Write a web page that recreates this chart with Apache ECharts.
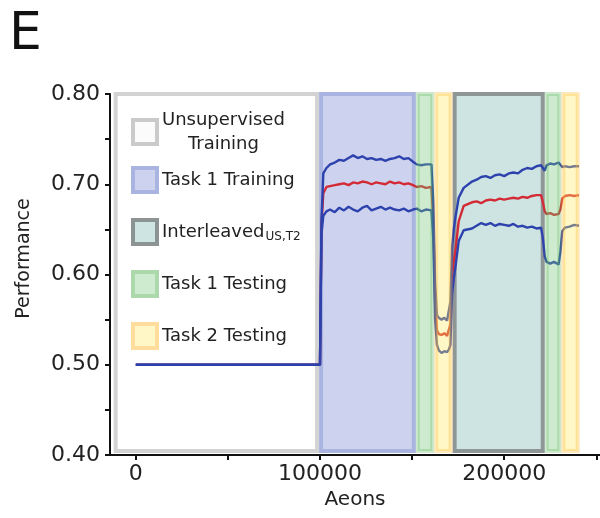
<!DOCTYPE html>
<html>
<head>
<meta charset="utf-8">
<script src="https://cdn.jsdelivr.net/npm/echarts@6/dist/echarts.min.js"></script>
<style>html,body{margin:0;padding:0;background:#fff}#c{width:600px;height:518px}</style>
</head>
<body>
<div id="c"></div>
<script>
// ---- data ----
const aeons = [0,100000,100800,101800,103500,105500,108000,110500,113000,115500,118000,120500,123000,125500,128000,130500,133000,135500,138000,140500,143000,145500,148000,150500,152500,155000,157500,160500,161500,162500,163500,164500,166000,167500,169000,170000,170800,171700,172600,173500,175300,178000,182500,185000,187500,190000,192500,195000,197500,200000,202500,205000,207500,210000,212500,215000,217500,220000,221000,222000,223000,225000,227000,229500,230500,231500,233000,235500,238000,240500];
const upperVals = [0.5,0.5,0.660,0.712,0.718,0.722,0.724,0.727,0.726,0.729,0.732,0.729,0.731,0.728,0.729,0.727,0.728,0.726,0.728,0.729,0.731,0.728,0.729,0.725,0.722,0.721,0.722,0.722,0.680,0.590,0.555,0.552,0.550,0.552,0.549,0.551,0.570,0.630,0.650,0.663,0.685,0.696,0.703,0.705,0.708,0.709,0.707,0.710,0.711,0.709,0.712,0.713,0.712,0.716,0.718,0.717,0.720,0.721,0.718,0.715,0.721,0.723,0.722,0.724,0.722,0.719,0.720,0.719,0.720,0.720];
const meanVals = [0.5,0.5,0.655,0.690,0.697,0.698,0.699,0.700,0.701,0.699,0.702,0.701,0.703,0.702,0.700,0.702,0.701,0.700,0.703,0.701,0.702,0.700,0.701,0.699,0.697,0.698,0.696,0.697,0.660,0.570,0.538,0.534,0.533,0.535,0.532,0.534,0.545,0.600,0.615,0.626,0.659,0.676,0.680,0.681,0.679,0.682,0.683,0.682,0.684,0.683,0.684,0.685,0.684,0.686,0.685,0.687,0.688,0.688,0.680,0.670,0.667,0.668,0.666,0.667,0.672,0.684,0.687,0.688,0.687,0.688];
const lowerVals = [0.5,0.5,0.645,0.665,0.670,0.672,0.669,0.674,0.671,0.675,0.672,0.670,0.674,0.676,0.671,0.673,0.675,0.672,0.674,0.672,0.671,0.673,0.670,0.672,0.673,0.670,0.672,0.671,0.640,0.550,0.522,0.516,0.513,0.515,0.514,0.517,0.522,0.578,0.595,0.608,0.637,0.649,0.651,0.654,0.657,0.655,0.657,0.654,0.656,0.655,0.654,0.656,0.653,0.654,0.652,0.653,0.651,0.652,0.640,0.620,0.614,0.612,0.614,0.611,0.625,0.648,0.652,0.653,0.655,0.654];

const unsupervisedSpans = [[-12000, 99500]];
const task1TrainingSpans = [[99500, 152000]];
const interleavedSpans = [[172000, 222000]];
const task1TestingSpans = [[152000, 162000], [222000, 231000]];
const task2TestingSpans = [[162000, 172000], [231000, 241000]];

const regionNames = ['Unsupervised Training', 'Task 1 Training', 'Interleaved', 'Task 1 Testing', 'Task 2 Testing'];
const xTickValues = [0, 50000, 100000, 150000, 200000, 250000];
const xLabelValues = [0, 100000, 200000];
const yTickValues = [0.40, 0.45, 0.50, 0.55, 0.60, 0.65, 0.70, 0.75, 0.80];
const yLabelValues = [0.40, 0.50, 0.60, 0.70, 0.80];

// ---- styles ----
const FONT = 'DejaVu Sans';
const regionStyles = {
  'Unsupervised Training': {z: 1, fill: 'rgba(255,255,255,0)', stroke: 'rgba(175,175,175,0.55)', lfill: '#fbfbfb', lborder: '#cacaca'},
  'Task 1 Training': {z: 1, fill: '#cdd3ee', stroke: '#aab4e0', lfill: '#cdd3ee', lborder: '#a9b4e0'},
  'Interleaved': {z: 1, fill: '#cde4e3', stroke: '#8e9696', lfill: '#cde4e3', lborder: '#8c9393'},
  'Task 1 Testing': {z: 5, fill: 'rgba(118,198,118,0.35)', stroke: 'rgba(90,180,90,0.30)', lfill: '#cfebcf', lborder: '#acd9ac'},
  'Task 2 Testing': {z: 5, fill: 'rgba(255,232,89,0.35)', stroke: 'rgba(255,190,60,0.35)', lfill: '#fff7c5', lborder: '#ffde9d'}
};
const spansByName = {
  'Unsupervised Training': unsupervisedSpans,
  'Task 1 Training': task1TrainingSpans,
  'Interleaved': interleavedSpans,
  'Task 1 Testing': task1TestingSpans,
  'Task 2 Testing': task2TestingSpans
};

function regionSeries(name) {
  const st = regionStyles[name];
  return {
    name: name,
    type: 'custom',
    z: st.z,
    silent: true,
    encode: {x: [0, 1], y: [2, 3]},
    data: spansByName[name].map(s => [s[0], s[1], 0.8, 0.4]),
    renderItem: function (params, api) {
      const p0 = api.coord([api.value(0), api.value(2)]);
      const p1 = api.coord([api.value(1), api.value(3)]);
      return {
        type: 'rect',
        shape: {x: p0[0] + 2, y: p0[1], width: p1[0] - p0[0] - 4, height: p1[1] - p0[1] - 4},
        style: {fill: st.fill, stroke: st.stroke, lineWidth: 4}
      };
    }
  };
}

function toPts(vals) { return aeons.map((x, i) => [x, vals[i]]); }

const legendText = {fontFamily: FONT, fontSize: 18, color: '#222', lineHeight: 22,
  rich: {
    c: {fontFamily: FONT, fontSize: 18, color: '#222', align: 'center', lineHeight: 24},
    a: {fontFamily: FONT, fontSize: 18, color: '#222', lineHeight: 22},
    s: {fontFamily: FONT, fontSize: 12, color: '#222', lineHeight: 12, verticalAlign: 'bottom', padding: [6, 0, 0, 1]}
  }
};
function legendItem(name) {
  const st = regionStyles[name];
  return {name: name, icon: 'rect', itemStyle: {color: st.lfill, borderColor: st.lborder, borderWidth: 4}};
}

const chart = echarts.init(document.getElementById('c'), null, {renderer: 'canvas'});
chart.setOption({
  animation: false,
  backgroundColor: '#fff',
  graphic: [{type: 'text', left: 9, top: 9, style: {text: 'E', font: '52px "DejaVu Sans"', fill: '#111'}}],
  legend: [
    {data: [legendItem(regionNames[0])], orient: 'vertical', left: 126, top: 103, itemWidth: 24, itemHeight: 24,
     selectedMode: false, textStyle: legendText,
     formatter: () => '{c|Unsupervised}\n{c|Training}'},
    {data: regionNames.slice(1).map(legendItem), orient: 'vertical', left: 126, top: 161, itemWidth: 24, itemHeight: 24,
     itemGap: 24, selectedMode: false, textStyle: legendText,
     formatter: n => n === 'Interleaved' ? '{a|Interleaved}{s|US,T2}' : n}
  ],
  grid: {left: 110, right: 0, top: 94, bottom: 63},
  xAxis: {
    type: 'value', min: -14000, max: 252000,
    name: 'Aeons', nameLocation: 'middle', nameGap: 33,
    nameTextStyle: {fontFamily: FONT, fontSize: 20, color: '#222'},
    axisLine: {show: true, onZero: false, lineStyle: {color: '#111', width: 2}},
    axisTick: {show: true, length: 5, lineStyle: {color: '#111', width: 2}, customValues: xTickValues},
    axisLabel: {customValues: xLabelValues, fontFamily: FONT, fontSize: 22, color: '#222', margin: 8, formatter: v => String(v)},
    splitLine: {show: false}
  },
  yAxis: {
    type: 'value', min: 0.4, max: 0.8,
    name: 'Performance', nameLocation: 'middle', nameGap: 76,
    nameTextStyle: {fontFamily: FONT, fontSize: 19, color: '#222', padding: [0, 0, 0, 32]},
    axisLine: {show: true, onZero: false, lineStyle: {color: '#111', width: 2}},
    axisTick: {show: true, length: 5, lineStyle: {color: '#111', width: 2}, customValues: yTickValues},
    axisLabel: {customValues: yLabelValues, fontFamily: FONT, fontSize: 22, color: '#222', margin: 10, formatter: v => v.toFixed(2)},
    splitLine: {show: false}
  },
  series: [
    {name: 'mean', type: 'line', z: 2, showSymbol: false, data: toPts(meanVals), lineStyle: {color: '#d42a35', width: 2.4}},
    {name: 'upper', type: 'line', z: 2, showSymbol: false, data: toPts(upperVals), lineStyle: {color: '#2d42ad', width: 2.4}},
    {name: 'lower', type: 'line', z: 2, showSymbol: false, data: toPts(lowerVals), lineStyle: {color: '#2d42ad', width: 2.4}}
  ].concat(regionNames.map(regionSeries))
});
</script>
</body>
</html>
